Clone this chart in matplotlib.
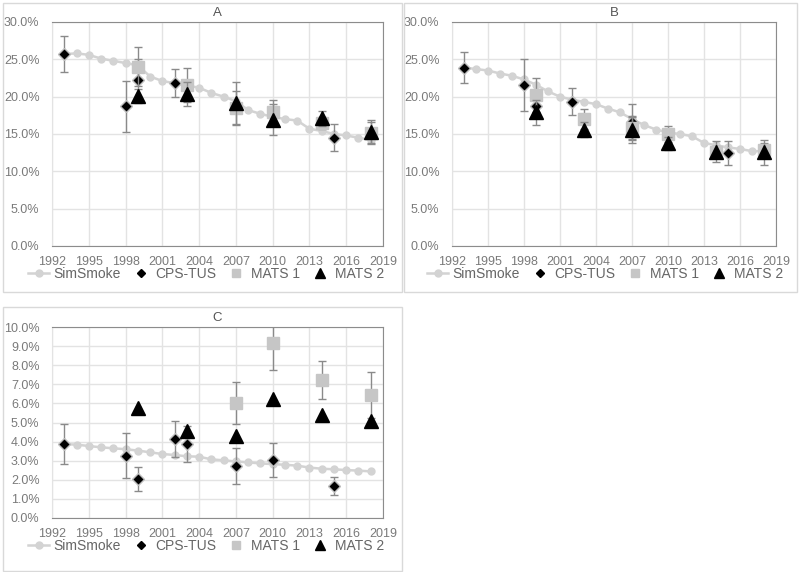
import numpy as np
import matplotlib
matplotlib.use('Agg')
import matplotlib.pyplot as plt
from matplotlib.ticker import PercentFormatter
from matplotlib.lines import Line2D
from matplotlib.patches import Rectangle

plt.rcParams['font.family'] = ['Liberation Sans', 'DejaVu Sans']

# SimSmoke, annual 1993-2018
sim_years = [1993, 1994, 1995, 1996, 1997, 1998, 1999, 2000, 2001, 2002, 2003, 2004, 2005,
             2006, 2007, 2008, 2009, 2010, 2011, 2012, 2013, 2014, 2015, 2016, 2017, 2018]
simA = [25.7, 25.8, 25.6, 25.1, 24.8, 24.5, 24.2, 22.7, 22.1, 21.8, 21.5, 21.2, 20.5,
        20.0, 19.4, 18.2, 17.7, 17.3, 17.0, 16.8, 15.7, 15.4, 15.0, 14.8, 14.5, 14.2]
simB = [23.9, 23.7, 23.5, 23.1, 22.8, 22.3, 21.6, 20.7, 20.0, 19.6, 19.3, 19.0, 18.4,
        17.9, 17.0, 16.2, 15.6, 15.2, 15.0, 14.7, 13.8, 13.5, 13.2, 13.0, 12.7, 12.7]
simC = [3.87, 3.84, 3.77, 3.70, 3.65, 3.60, 3.53, 3.44, 3.35, 3.30, 3.23, 3.21, 3.07,
        3.02, 2.96, 2.91, 2.86, 2.82, 2.79, 2.74, 2.64, 2.58, 2.55, 2.51, 2.48, 2.44]

# CPS-TUS
cpsA_years = [1993, 1998, 1999, 2002, 2015]
cpsA = [25.7, 18.7, 22.2, 21.8, 14.5]
cpsA_err = [2.4, 3.4, 2.9, 1.9, 1.8]
cpsB_years = [1993, 1998, 1999, 2002, 2007, 2015]
cpsB = [23.9, 21.6, 18.75, 19.3, 16.6, 12.4]
cpsB_err = [2.1, 3.5, 1.0, 1.8, 2.4, 1.6]
cpsC_years = [1993, 1998, 1999, 2002, 2003, 2007, 2010, 2015]
cpsC = [3.87, 3.26, 2.04, 4.15, 3.86, 2.72, 3.04, 1.69]
cpsC_err = [1.03, 1.18, 0.65, 0.95, 0.95, 0.93, 0.87, 0.47]

# MATS 1
mats_years = [1999, 2003, 2007, 2010, 2014, 2018]
m1A = [24.0, 21.6, 18.5, 18.0, 16.5, 15.2]
m1A_err = [2.6, 2.3, 2.3, 1.6, 0.8, 1.4]
m1B = [20.2, 17.0, 15.8, 15.0, 12.6, 12.8]
m1B_err = [2.3, 1.3, 1.5, 1.1, 0.8, 1.0]
m1C_years = [2007, 2010, 2014, 2018]
m1C = [6.04, 9.14, 7.22, 6.44]
m1C_err = [1.1, 1.4, 1.0, 1.2]

# MATS 2
m2A = [20.1, 20.4, 19.2, 16.9, 17.1, 15.3]
m2A_err = [0.9, 1.6, 2.8, 2.1, 1.0, 1.6]
m2B = [17.9, 15.6, 15.6, 13.75, 12.6, 12.55]
m2B_err = [1.7, 1.0, 1.8, 0.9, 1.4, 1.7]
m2C = [5.74, 4.57, 4.29, 6.21, 5.41, 5.06]

labels = ['SimSmoke', 'CPS-TUS', 'MATS 1', 'MATS 2']
xticks = list(range(1992, 2020, 3))
txt_col = '#7a7a7a'
sim_col = '#d3d3d3'
sq_col = '#c6c6c6'
err_col = '#8a8a8a'

fig = plt.figure(figsize=(8, 5.72), dpi=100)

# panel frames
for (x0, y0, x1, y1) in [(3, 3, 402, 292), (404, 3, 797, 292), (3, 307, 402, 571)]:
    fig.patches.append(Rectangle((x0 / 800, 1 - y1 / 572), (x1 - x0) / 800, (y1 - y0) / 572,
                                 transform=fig.transFigure, fill=False, ec='#d9d9d9', lw=1))


def panel(rect, title, sim, cps_y, cps, cps_err, m1_y, m1, m1_err, m2, m2_err, ymax, ystep, leg_xy):
    ax = fig.add_axes(rect)
    ax.plot(sim_years, sim, '-o', color=sim_col, lw=1.8, ms=5, mec=sim_col, zorder=2)
    ax.errorbar(cps_y, cps, yerr=cps_err, fmt='D', color='black', ms=6.5, mec='#bdbdbd', mew=1,
                ecolor=err_col, elinewidth=1, capsize=3, capthick=1, zorder=3)
    ax.errorbar(m1_y, m1, yerr=m1_err, fmt='s', color=sq_col, ms=8.5, mec=sq_col,
                ecolor=err_col, elinewidth=1, capsize=3, capthick=1, zorder=4)
    if m2_err is None:
        ax.plot(mats_years, m2, '^', color='black', ms=9.5, zorder=5)
    else:
        ax.errorbar(mats_years, m2, yerr=m2_err, fmt='^', color='black', ms=9.5,
                    ecolor=err_col, elinewidth=1, capsize=3, capthick=1, zorder=5)
    ax.set_xlim(1992, 2019)
    ax.set_ylim(0, ymax)
    ax.set_xticks(xticks)
    ax.set_yticks(np.arange(0, ymax + 0.01, ystep))
    ax.yaxis.set_major_formatter(PercentFormatter(xmax=100, decimals=1))
    ax.grid(True, color='#e3e3e3', lw=1)
    ax.set_axisbelow(True)
    ax.tick_params(length=0, labelsize=9, labelcolor=txt_col)
    ax.tick_params(axis='y', pad=9)
    ax.tick_params(axis='x', pad=7)
    for s in ['top', 'right', 'bottom']:
        ax.spines[s].set_color('#8c8c8c')
    ax.spines['left'].set_color('#e3e3e3')
    ax.text(0.5, 1.015, title, transform=ax.transAxes, ha='center', va='bottom',
            fontsize=9.5, color='#555555')
    handles = [
        Line2D([], [], color=sim_col, lw=1.8, marker='o', ms=5),
        Line2D([], [], ls='none', marker='D', color='black', ms=4.5),
        Line2D([], [], ls='none', marker='s', color=sq_col, ms=6),
        Line2D([], [], ls='none', marker='^', color='black', ms=6.5),
    ]
    leg = fig.legend(handles, labels, loc='center',
                     bbox_to_anchor=(leg_xy[0] / 800, 1 - leg_xy[1] / 572), ncol=4, frameon=False,
                     fontsize=10, handlelength=1.5, handletextpad=0.3, columnspacing=0.7,
                     borderpad=0.1)
    for t in leg.get_texts():
        t.set_color('#666666')
    return ax


panel([52 / 800, 1 - 246 / 572, 331 / 800, 224 / 572], 'A', simA, cpsA_years, cpsA, cpsA_err,
      mats_years, m1A, m1A_err, m2A, m2A_err, 30, 5, (206, 274))
panel([452 / 800, 1 - 246 / 572, 324 / 800, 224 / 572], 'B', simB, cpsB_years, cpsB, cpsB_err,
      mats_years, m1B, m1B_err, m2B, m2B_err, 30, 5, (605, 274))
panel([52 / 800, 1 - 518 / 572, 331 / 800, 191 / 572], 'C', simC, cpsC_years, cpsC, cpsC_err,
      m1C_years, m1C, m1C_err, m2C, None, 10, 1, (206, 546))

fig.savefig('out.png', dpi=100)
